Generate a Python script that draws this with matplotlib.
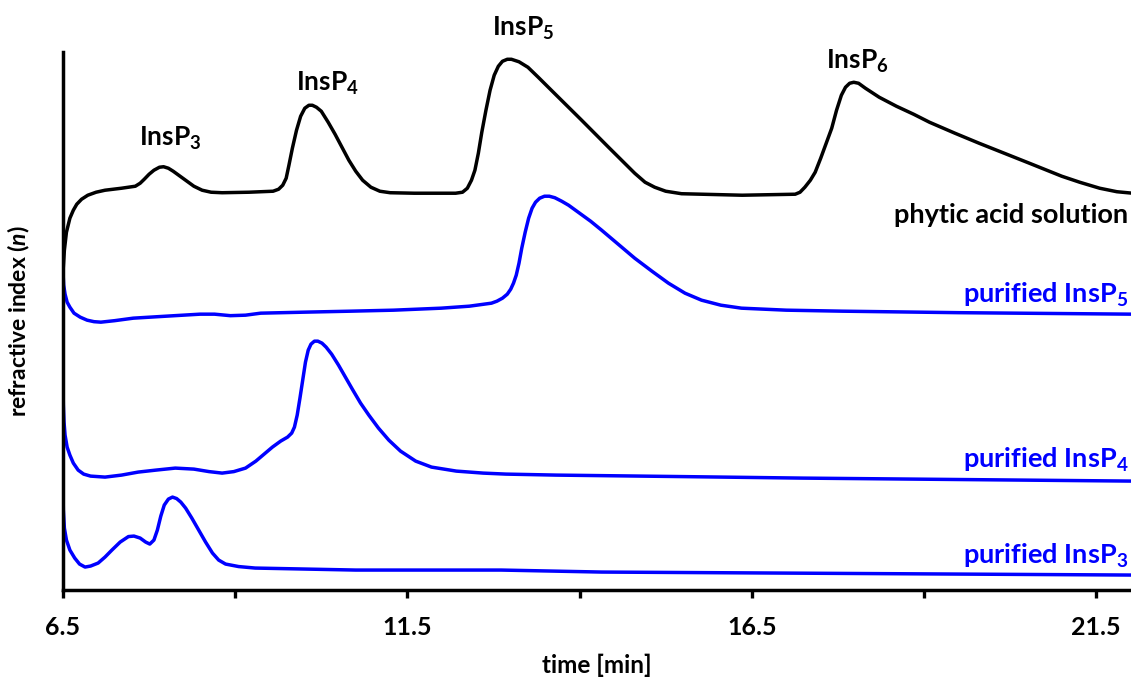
import matplotlib
matplotlib.use("Agg")
import matplotlib.pyplot as plt

plt.rcParams['font.family'] = ['Lato', 'DejaVu Sans']
plt.rcParams['font.weight'] = 'bold'
plt.rcParams['axes.labelweight'] = 'bold'
plt.rcParams['mathtext.fontset'] = 'custom'
plt.rcParams['mathtext.rm'] = 'Lato:bold'
plt.rcParams['mathtext.bf'] = 'Lato:bold'
plt.rcParams['mathtext.it'] = 'Lato:italic:bold'

BLUE = '#0000ff'

# chromatogram traces: retention time [min] and detector response (arb. units, stacked)
phytic_t = [6.50, 6.52, 6.55, 6.60, 6.65, 6.70, 6.77, 6.86, 6.98, 7.11, 7.35, 7.55, 7.62,
            7.68, 7.75, 7.82, 7.90, 7.96, 8.03, 8.10, 8.20, 8.30, 8.40, 8.52, 8.65, 8.81,
            9.20, 9.55, 9.63, 9.69, 9.74, 9.78, 9.83, 9.89, 9.95, 10.01, 10.07, 10.12,
            10.18, 10.25, 10.35, 10.45, 10.55, 10.65, 10.75, 10.85, 10.97, 11.10, 11.25,
            11.60, 12.20, 12.30, 12.37, 12.43, 12.48, 12.53, 12.58, 12.64, 12.70, 12.76,
            12.82, 12.88, 12.95, 13.01, 13.12, 13.25, 13.40, 13.59, 14.03, 14.42, 14.80,
            14.95, 15.09, 15.25, 15.48, 16.36, 17.13, 17.20, 17.27, 17.35, 17.42, 17.50,
            17.58, 17.66, 17.73, 17.80, 17.86, 17.92, 17.98, 18.05, 18.15, 18.35, 18.60,
            18.85, 19.08, 19.45, 19.80, 20.53, 21.00, 21.26, 21.55, 21.80, 22.03]
phytic_v = [318, 340, 358, 372, 380, 386, 391, 395, 398, 400, 402, 404, 407,
            411, 416, 420, 423, 423.5, 422, 419, 414, 409, 404, 400, 398, 397.5,
            398, 399, 401, 405, 412, 425, 442, 460, 474, 482, 485, 485,
            483, 479, 468, 456, 443, 430, 419, 410, 403, 399, 397.5,
            397, 397, 398, 402, 410, 420, 437, 458, 480, 500, 515,
            524, 529, 531, 531, 528.5, 523, 513, 500, 470, 443, 417,
            408, 403, 399, 396.5, 395, 396, 398, 403, 410, 418, 432,
            447, 462, 480, 495, 503, 507, 508, 507, 502, 493, 484,
            476, 468, 457, 447, 427, 414, 408, 402, 398.5, 397]

insp5_t = [6.50, 6.51, 6.53, 6.56, 6.60, 6.66, 6.75, 6.85, 6.95, 7.05, 7.25, 7.52, 8.00,
           8.49, 8.70, 8.93, 9.15, 9.37, 10.00, 10.68, 11.30, 11.99, 12.40, 12.72, 12.80,
           12.88, 12.95, 13.00, 13.04, 13.08, 13.12, 13.16, 13.21, 13.26, 13.31, 13.36,
           13.42, 13.49, 13.56, 13.64, 13.74, 13.84, 14.00, 14.16, 14.32, 14.56, 14.80,
           15.05, 15.29, 15.53, 15.77, 16.05, 16.35, 17.00, 17.81, 19.50, 22.03]
insp5_v = [318, 305, 296, 288, 283, 277, 273, 270, 268.5, 268, 269.5, 272, 274,
           276, 276, 274.5, 275, 277, 278, 279, 280, 282, 284, 287, 289,
           292, 296, 301, 307, 315, 327, 342, 358, 372, 382, 388,
           392, 394, 394, 392.5, 389, 385, 377, 369, 360, 346, 332,
           319, 307, 297, 290, 285, 282, 280, 279, 277.5, 276]

insp4_t = [6.50, 6.505, 6.515, 6.53, 6.56, 6.60, 6.65, 6.72, 6.80, 6.90, 7.11, 7.35, 7.59,
           7.85, 8.13, 8.40, 8.62, 8.81, 8.98, 9.15, 9.30, 9.42, 9.54, 9.66, 9.76, 9.82,
           9.86, 9.90, 9.94, 9.98, 10.02, 10.06, 10.10, 10.15, 10.20, 10.26, 10.32, 10.40,
           10.50, 10.60, 10.70, 10.82, 10.94, 11.08, 11.23, 11.40, 11.62, 11.85, 12.21,
           12.60, 12.93, 13.66, 15.50, 17.23, 22.03]
insp4_v = [205, 185, 168, 155, 143, 135, 127, 120, 116, 114, 113, 115, 118,
           120, 122, 121, 118.5, 117, 118.5, 122, 129, 136, 143, 149, 153, 157,
           163, 175, 192, 210, 228, 240, 246, 249, 249, 247, 243, 236,
           225, 213, 201, 187, 175, 162, 150, 139, 129, 123, 119,
           117, 116, 115, 113.5, 112, 109]

insp3_t = [6.50, 6.505, 6.52, 6.55, 6.60, 6.67, 6.74, 6.82, 6.90, 7.01, 7.11, 7.21, 7.33,
           7.45, 7.53, 7.62, 7.70, 7.76, 7.82, 7.87, 7.92, 7.97, 8.03, 8.09, 8.15, 8.21,
           8.28, 8.37, 8.47, 8.57, 8.67, 8.76, 8.86, 9.05, 9.29, 10.75, 12.86, 14.32, 22.03]
insp3_v = [100, 80, 62, 50, 40, 32, 26, 23, 24, 27, 33, 40, 48,
           53.5, 54, 52, 48, 46, 50, 60, 74, 85, 91, 93, 91.5, 88,
           82, 72, 60, 48, 37, 30, 26, 23.5, 22, 20, 20, 18, 15]

peak_names = ['InsP$_\\mathbf{3}$', 'InsP$_\\mathbf{4}$', 'InsP$_\\mathbf{5}$', 'InsP$_\\mathbf{6}$']
peak_label_pos = [(8.06, 452), (10.34, 507), (13.18, 562), (18.03, 529)]

trace_labels = ['phytic acid solution', 'purified InsP$_\\mathbf{5}$',
                'purified InsP$_\\mathbf{4}$', 'purified InsP$_\\mathbf{3}$']
trace_label_y = [375, 295, 130, 34]
trace_colors = ['black', BLUE, BLUE, BLUE]

fig = plt.figure(figsize=(11.31, 6.79), dpi=100)
ax = fig.add_axes([0.0557, 0.131, 0.944, 0.792])

for t, v, c in [(phytic_t, phytic_v, 'black'), (insp5_t, insp5_v, BLUE),
                (insp4_t, insp4_v, BLUE), (insp3_t, insp3_v, BLUE)]:
    ax.plot(t, v, color=c, lw=2.5, solid_joinstyle='round', solid_capstyle='round')

for name, (x, y) in zip(peak_names, peak_label_pos):
    ax.text(x, y, name, ha='center', va='center', fontsize=19, clip_on=False)

for name, y, c in zip(trace_labels, trace_label_y, trace_colors):
    ax.text(21.97, y, name, ha='right', va='center', fontsize=19.5, color=c)

ax.set_xlim(6.5, 22.0)
ax.set_ylim(0, 538)
ax.set_xticks([6.5, 11.5, 16.5, 21.5])
ax.set_xticks([9.0, 14.0, 19.0], minor=True)
ax.set_xticklabels(['6.5', '11.5', '16.5', '21.5'], fontsize=18)
ax.tick_params(axis='x', which='both', direction='out', length=6, width=2.4, pad=13)
ax.set_yticks([])

for side in ['top', 'right']:
    ax.spines[side].set_visible(False)
for side in ['left', 'bottom']:
    ax.spines[side].set_linewidth(2.5)

ax.set_xlabel('time [min]', fontsize=17.5, labelpad=10)
ax.set_ylabel('refractive index ($\\mathit{n}$)', fontsize=16.5)
ax.yaxis.set_label_coords(-0.029, 0.5)

fig.savefig('out.png', dpi=100)
